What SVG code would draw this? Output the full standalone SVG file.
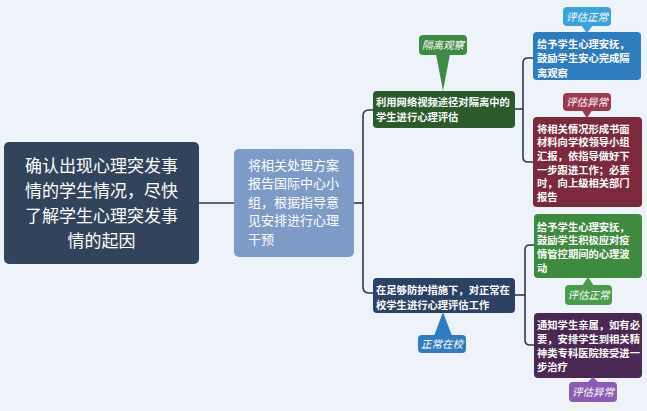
<svg xmlns="http://www.w3.org/2000/svg" width="647" height="411" viewBox="0 0 647 411">
<style>
text{font-family:"Liberation Sans","Noto Sans CJK SC",sans-serif;fill:#ffffff}
.root{font-size:17px}
.n2{font-size:13px}
.b{font-size:10.3px;font-weight:bold}
.c{font-size:10.5px;font-style:italic;text-anchor:middle}
.conn{fill:none;stroke:#2e3a48;stroke-width:1.6}
</style>
<rect width="647" height="411" fill="#eef3f9"/>
<g id="connectors">
<path class="conn" d="M199,203 H234"/>
<path class="conn" d="M354,203 H363"/>
<path class="conn" d="M373,110 H369 Q363,110 363,116 V287 Q363,293 369,293 H373"/>
<path class="conn" d="M515,109 H523"/>
<path class="conn" d="M533,58 H528 Q523,58 523,63 V157 Q523,162 528,162 H533"/>
<path class="conn" d="M515,295 H525"/>
<path class="conn" d="M534,245 H530 Q525,245 525,250 V340 Q525,345 530,345 H534"/>
</g>
<g id="root">
<rect x="4" y="142" width="195" height="122" rx="5" fill="#32445c"/>
<text class="root" text-anchor="middle"><tspan x="101.5" y="172">确认出现心理突发事</tspan><tspan x="101.5" y="197">情的学生情况，尽快</tspan><tspan x="101.5" y="222">了解学生心理突发事</tspan><tspan x="101.5" y="247">情的起因</tspan></text>
</g>
<g id="report">
<rect x="234" y="149" width="120" height="108" rx="5" fill="#7e9bc8"/>
<text class="n2"><tspan x="248" y="169.5">将相关处理方案</tspan><tspan x="248" y="188">报告国际中心小</tspan><tspan x="248" y="206.5">组，根据指导意</tspan><tspan x="248" y="225">见安排进行心理</tspan><tspan x="248" y="243.5">干预</tspan></text>
</g>
<g id="online">
<rect x="373" y="91" width="142" height="37" rx="4" fill="#2b5a2c"/>
<text class="b"><tspan x="376" y="106">利用网络视频途径对隔离中的</tspan><tspan x="376" y="121">学生进行心理评估</tspan></text>
</g>
<g id="tag-isolate">
<path d="M436,54 L443,91 L450,54 Z" fill="#3f8a45"/>
<rect x="419" y="35" width="48" height="20" rx="4" fill="#3f8a45"/>
<text class="c" x="443" y="49">隔离观察</text>
</g>
<g id="comfort1">
<rect x="533" y="32" width="108" height="48" rx="4" fill="#2d7cc0"/>
<text class="b"><tspan x="537" y="47.5">给予学生心理安抚，</tspan><tspan x="537" y="62">鼓励学生安心完成隔</tspan><tspan x="537" y="76.5">离观察</tspan></text>
</g>
<g id="tag-normal1">
<path d="M581,25 L587,33 L593,25 Z" fill="#3da2dc"/>
<rect x="563" y="7" width="48" height="19" rx="4" fill="#3da2dc"/>
<text class="c" x="587" y="20.5">评估正常</text>
</g>
<g id="report2">
<rect x="533" y="117" width="109" height="90" rx="4" fill="#7b2a3e"/>
<text class="b"><tspan x="537" y="132.5">将相关情况形成书面</tspan><tspan x="537" y="146.2">材料向学校领导小组</tspan><tspan x="537" y="159.9">汇报，依指导做好下</tspan><tspan x="537" y="173.6">一步跟进工作；必要</tspan><tspan x="537" y="187.3">时，向上级相关部门</tspan><tspan x="537" y="201">报告</tspan></text>
</g>
<g id="tag-abnormal1">
<path d="M581,109 L587,118 L593,109 Z" fill="#9b3a4f"/>
<rect x="563" y="93" width="48" height="18" rx="4" fill="#9b3a4f"/>
<text class="c" x="587" y="105.5">评估异常</text>
</g>
<g id="onsite">
<rect x="373" y="278" width="142" height="35" rx="4" fill="#2c4265"/>
<text class="b"><tspan x="376" y="294">在足够防护措施下，对正常在</tspan><tspan x="376" y="308.5">校学生进行心理评估工作</tspan></text>
</g>
<g id="tag-school">
<path d="M434,336 L443,312 L452,336 Z" fill="#2f7cc0"/>
<rect x="418" y="335" width="48" height="18" rx="4" fill="#2f7cc0"/>
<text class="c" x="442" y="347.5">正常在校</text>
</g>
<g id="comfort2">
<rect x="534" y="214" width="108" height="64" rx="4" fill="#3e8a3e"/>
<text class="b"><tspan x="537" y="230.5">给予学生心理安抚，</tspan><tspan x="537" y="244.3">鼓励学生积极应对疫</tspan><tspan x="537" y="258">情管控期间的心理波</tspan><tspan x="537" y="271.7">动</tspan></text>
</g>
<g id="tag-normal2">
<path d="M582,286 L588,277 L594,286 Z" fill="#4b9b4c"/>
<rect x="565" y="285" width="47" height="20" rx="4" fill="#4b9b4c"/>
<text class="c" x="588.5" y="299">评估正常</text>
</g>
<g id="notify">
<rect x="534" y="313" width="108" height="65" rx="4" fill="#4b2853"/>
<text class="b"><tspan x="537" y="328.5">通知学生亲属，如有必</tspan><tspan x="537" y="342.5">要，安排学生到相关精</tspan><tspan x="537" y="356.5">神类专科医院接受进一</tspan><tspan x="537" y="370.5">步治疗</tspan></text>
</g>
<g id="tag-abnormal2">
<path d="M587,383 L593,377 L599,383 Z" fill="#8d5bb3"/>
<rect x="569" y="382" width="48" height="20" rx="4" fill="#8d5bb3"/>
<text class="c" x="593" y="396">评估异常</text>
</g>
</svg>
